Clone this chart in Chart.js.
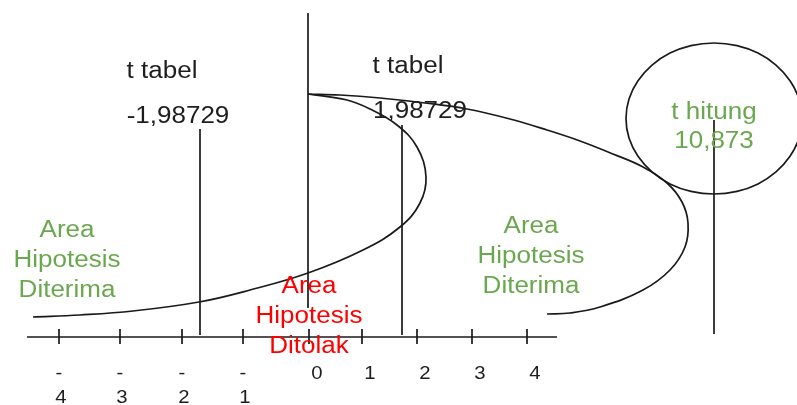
<!DOCTYPE html>
<html><head><meta charset="utf-8">
<script src="https://cdn.jsdelivr.net/npm/chart.js@4"></script>
<style>html,body{margin:0;padding:0;background:#fff}#wrap{width:797px;height:405px;position:relative}</style>
</head><body><div id="wrap"><canvas id="c"></canvas></div>
<script>
// Diagram coordinates (x: left->right, y: top->down)
const tickPositions = [59, 120, 182, 243, 309, 362, 417, 472, 527];
const tickLabels = ['-4', '-3', '-2', '-1', '0', '1', '2', '3', '4'];
const axisX = [27, 557];
const axisY = 337;
const innerCurveX = [33, 80, 133, 199, 250, 308, 363, 400, 420, 426, 417, 397, 370, 347, 308];
const innerCurveY = [317, 315, 311, 302, 290, 273, 250, 227, 203, 177, 147, 125, 109, 100, 94];
const outerCurveX = [308, 340, 380, 425, 467, 510, 547, 580, 613, 643, 667, 682, 688, 685, 670, 643, 600, 570, 547];
const outerCurveY = [94, 95, 98, 103, 109, 119, 130, 141, 154, 167, 183, 202, 223, 247, 270, 290, 307, 313, 314];
const circleX = [802, 799, 790, 776, 758, 737, 714, 691, 670, 652, 638, 629, 626, 629, 638, 652, 670, 691, 714, 737, 758, 776, 790, 799, 802];
const circleY = [118.5, 98.9, 80.8, 65.1, 53.1, 45.6, 43, 45.6, 53.1, 65.1, 80.8, 98.9, 118.5, 138.1, 156.3, 171.9, 183.9, 191.4, 194, 191.4, 183.9, 171.9, 156.3, 138.1, 118.5];
const markerX = [308, 200, 402, 714];
const markerTop = [13, 129, 125, 120];
const markerBottom = [308, 335, 335, 334];
const annotationTexts = ['t tabel', '-1,98729', 't tabel', '1,98729', 't hitung', '10,873',
  'Area', 'Hipotesis', 'Diterima', 'Area', 'Hipotesis', 'Diterima', 'Area', 'Hipotesis', 'Ditolak'];
const annotationX = [162, 178, 408, 420, 714, 714, 67, 67, 67, 531, 531, 531, 309, 309, 309];
const annotationY = [78, 123, 73, 118, 119, 148, 237, 267, 297, 233, 263, 293, 293, 323, 353];
const annotationKind = ['k', 'k', 'k', 'k', 'g', 'g', 'g', 'g', 'g', 'g', 'g', 'g', 'r', 'r', 'r'];

const INK = '#1a1a1a';
const COLORS = { k: '#1e1e1e', g: '#6aa84f', r: '#ff0000' };
const toPts = (xs, ys) => xs.map((x, i) => ({ x, y: ys[i] }));

const tickPts = [];
tickPositions.forEach(x => { tickPts.push({ x, y: axisY - 8 }, { x, y: axisY + 7 }, { x, y: null }); });
const markerPts = [];
markerX.forEach((x, i) => { markerPts.push({ x, y: markerTop[i] }, { x, y: markerBottom[i] }, { x, y: null }); });

const lineDs = (data, tension) => ({
  data, showLine: true, borderColor: INK, borderWidth: 1.7, pointRadius: 0,
  tension, fill: false, spanGaps: false
});

const textPlugin = {
  id: 'texts',
  afterDatasetsDraw(chart) {
    const { ctx, scales: { x, y } } = chart;
    const SX = 1.13;
    ctx.save();
    ctx.textAlign = 'center';
    ctx.textBaseline = 'alphabetic';
    const put = (t, px, py, size, color) => {
      ctx.save();
      ctx.font = size + 'px "Liberation Sans", Arial, sans-serif';
      ctx.fillStyle = color;
      ctx.translate(px, py);
      ctx.scale(SX, 1);
      ctx.fillText(t, 0, 0);
      ctx.restore();
    };
    annotationTexts.forEach((t, i) => {
      put(t, x.getPixelForValue(annotationX[i]), y.getPixelForValue(annotationY[i]), 23, COLORS[annotationKind[i]]);
    });
    tickLabels.forEach((lab, i) => {
      const px = x.getPixelForValue(tickPositions[i]);
      if (lab.startsWith('-')) {
        put('-', px, y.getPixelForValue(379), 18, COLORS.k);
        put(lab.slice(1), px + 2, y.getPixelForValue(403), 18, COLORS.k);
      } else {
        put(lab, px + 8, y.getPixelForValue(379), 18, COLORS.k);
      }
    });
    ctx.restore();
  }
};

new Chart(document.getElementById('c'), {
  type: 'scatter',
  data: {
    datasets: [
      lineDs([{ x: axisX[0], y: axisY }, { x: axisX[1], y: axisY }], 0),
      lineDs(tickPts, 0),
      lineDs(markerPts, 0),
      lineDs(toPts(innerCurveX, innerCurveY), 0.4),
      lineDs(toPts(outerCurveX, outerCurveY), 0.4),
      lineDs(toPts(circleX, circleY), 0.4)
    ]
  },
  options: {
    responsive: true, maintainAspectRatio: false, animation: false,
    layout: { padding: 0 },
    plugins: { legend: { display: false }, tooltip: { enabled: false } },
    scales: {
      x: { type: 'linear', min: 0, max: 797, display: false },
      y: { type: 'linear', min: 0, max: 405, reverse: true, display: false }
    }
  },
  plugins: [textPlugin]
});
</script></body></html>
